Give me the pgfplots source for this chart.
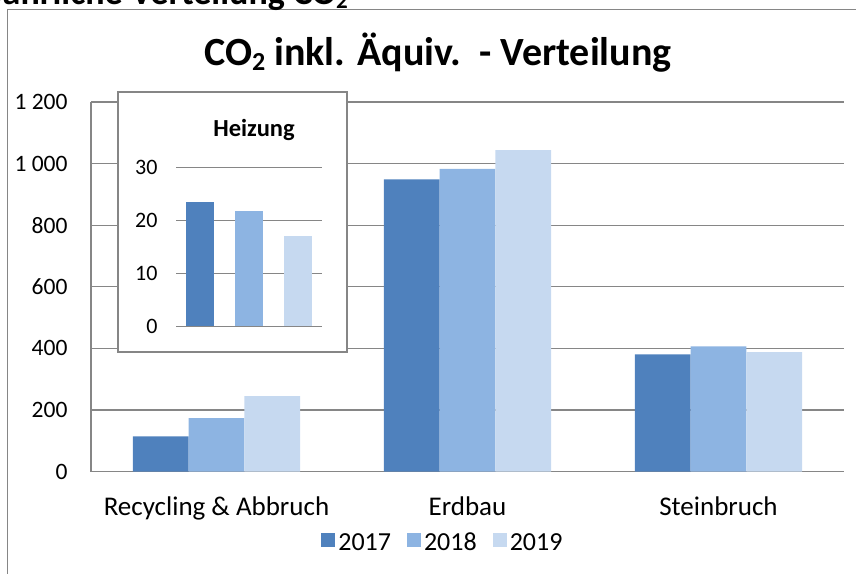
\documentclass[border=0pt]{standalone}
\usepackage{pgfplots}
\pgfplotsset{compat=1.18}
\usepackage{fontspec}
\setmainfont{Carlito}
\definecolor{cA}{RGB}{79,129,189}
\definecolor{cB}{RGB}{141,180,226}
\definecolor{cC}{RGB}{198,217,240}
\definecolor{gridg}{RGB}{134,134,134}
\begin{document}
\begin{tikzpicture}
% outer frame
\draw[gridg,line width=1.5bp] (7.5bp,-600bp) -- (7.5bp,-9.5bp) -- (900bp,-9.5bp);
% header (cut off)
\node[anchor=base east,inner sep=0pt,font=\fontsize{36bp}{40bp}\selectfont\bfseries] at (348bp,-4bp) {Jährliche Verteilung CO\raisebox{-0.25ex}{\fontsize{23bp}{24bp}\selectfont 2}};
% title
\node[anchor=base west,inner sep=0pt,font=\fontsize{40bp}{46bp}\selectfont\bfseries] at (204bp,-65bp) {CO\raisebox{-0.3ex}{\fontsize{26bp}{28bp}\selectfont 2} inkl. Äquiv.\ \ - Verteilung};
\begin{axis}[
  at={(91bp,-471.5bp)}, anchor=south west,
  scale only axis, width=753bp, height=369.5bp,
  xmin=-0.5, xmax=2.5, ymin=0, ymax=1200,
  xtick={0,1,2}, xticklabels={Recycling \& Abbruch, Erdbau, Steinbruch},
  ytick={0,200,400,600,800,1000,1200},
  yticklabels={0,200,400,600,800,1 000,1 200},
  major tick length=0pt,
  ymajorgrids, major grid style={gridg,line width=1.3bp},
  axis x line*=bottom, axis y line*=left,
  axis line style={gridg,line width=1.3bp,-},
  y tick label style={font=\fontsize{23.5bp}{28bp}\selectfont, xshift=-20bp},
  x tick label style={font=\fontsize{27bp}{32bp}\selectfont, anchor=base, yshift=-43.5bp},
  legend style={at={(0.468,-0.1935)},anchor=center,draw=none,
    legend columns=3,font=\fontsize{26bp}{30bp}\selectfont,
    nodes={text height=17bp, text depth=3bp, inner xsep=3bp},
    /tikz/every even column/.append style={column sep=13bp}},
  legend image code/.code={\fill[#1] (0bp,-4bp) rectangle (14bp,10bp);},
]
\addplot[ybar,bar width=0.222,bar shift=-0.222,fill=cA,draw=none] coordinates {(0,114) (1,949) (2,380)};
\addplot[ybar,bar width=0.222,bar shift=0,fill=cB,draw=none] coordinates {(0,173) (1,983) (2,406)};
\addplot[ybar,bar width=0.222,bar shift=0.222,fill=cC,draw=none] coordinates {(0,245) (1,1044) (2,388)};
\legend{2017,2018,2019}
\end{axis}
% inset box
\draw[gridg,line width=1.3bp,fill=white] (118bp,-92bp) rectangle (347bp,-352bp);
\node[font=\fontsize{24.5bp}{28bp}\selectfont\bfseries] at (254bp,-130bp) {Heizung};
\begin{axis}[
  at={(176bp,-326.3bp)}, anchor=south west,
  scale only axis, width=146bp, height=158.6bp,
  xmin=-0.5, xmax=2.5, ymin=0, ymax=30,
  xtick=\empty,
  ytick={0,10,20,30}, yticklabels={0,10,20,30},
  major tick length=0pt,
  ymajorgrids, major grid style={gridg,line width=1.3bp},
  axis line style={draw=none},
  tick label style={font=\fontsize{22bp}{26bp}\selectfont},
  y tick label style={xshift=-15bp},
]
\addplot[ybar,bar width=0.58,bar shift=0,fill=cA,draw=none] coordinates {(0,23.5)};
\addplot[ybar,bar width=0.58,bar shift=0,fill=cB,draw=none] coordinates {(1,21.8)};
\addplot[ybar,bar width=0.58,bar shift=0,fill=cC,draw=none] coordinates {(2,17.1)};
\end{axis}
\pgfresetboundingbox
\useasboundingbox (0bp,0bp) rectangle (856bp,-574bp);
\end{tikzpicture}
\end{document}
